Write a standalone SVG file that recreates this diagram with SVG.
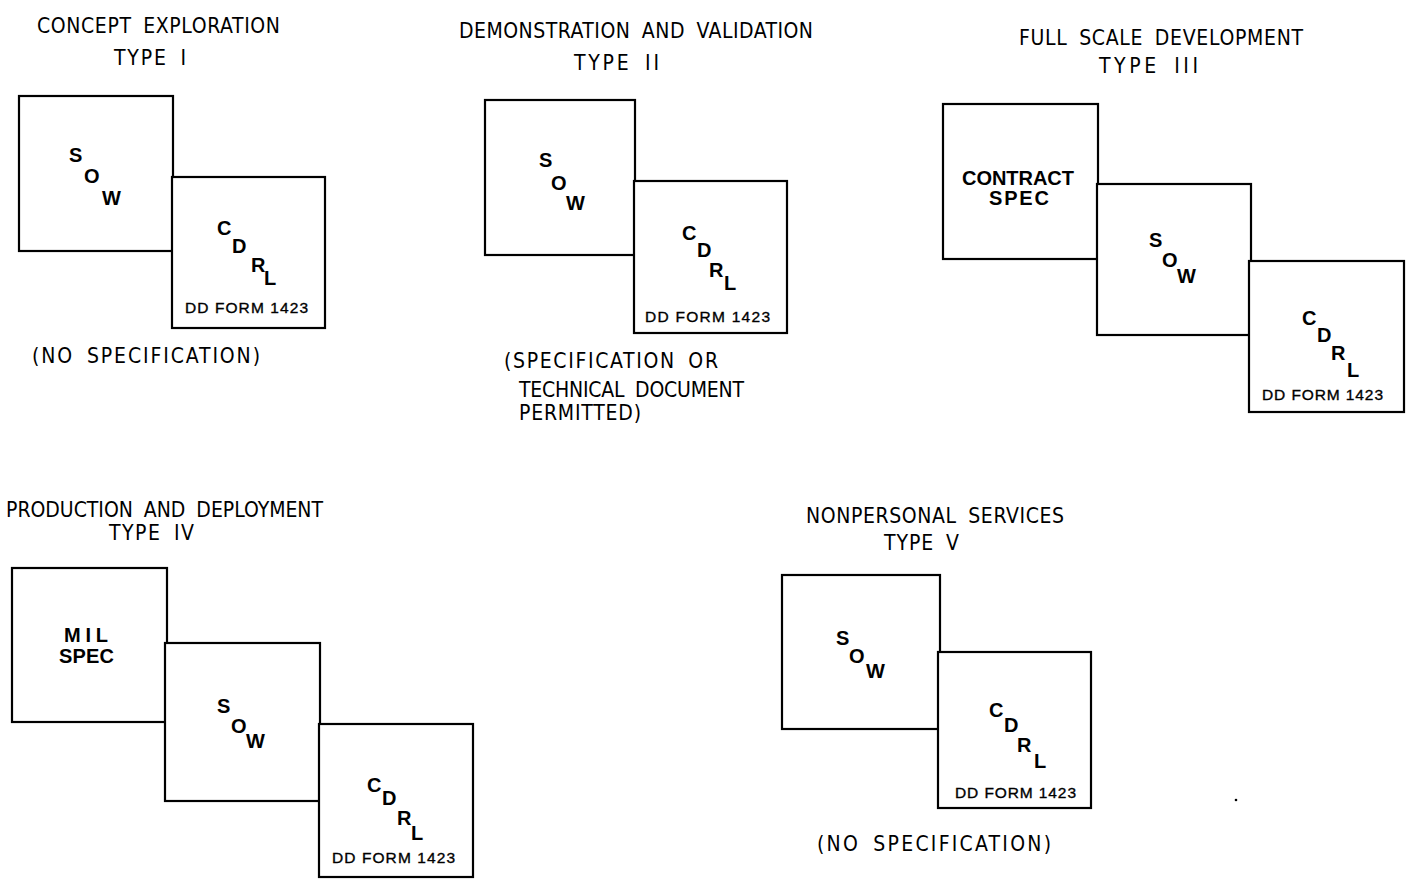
<svg xmlns="http://www.w3.org/2000/svg" width="1408" height="888" viewBox="0 0 1408 888">
<style>
.box{fill:#fff;stroke:#000;stroke-width:2.2}
.t{font-family:"DejaVu Sans Condensed","DejaVu Sans",sans-serif;font-stretch:condensed;font-size:21px;fill:#000;word-spacing:5px}
.b{font-family:"Liberation Sans",Arial,sans-serif;font-weight:bold;font-size:20px;fill:#000}
.f{font-family:"Liberation Sans",Arial,sans-serif;font-size:15.5px;fill:#000;stroke:#000;stroke-width:0.35}
</style>
<rect width="1408" height="888" fill="#fff"/>
<g id="connectors"></g>

<g id="type1">
<text class="t" x="37" y="33" textLength="243" lengthAdjust="spacing">CONCEPT EXPLORATION</text>
<text class="t" x="114" y="65" textLength="72" lengthAdjust="spacing">TYPE I</text>
<text class="t" x="32" y="363" textLength="228" lengthAdjust="spacing">(NO SPECIFICATION)</text>
<g id="t1-sow"><rect class="box" x="19" y="96" width="154" height="155"/>
<text class="b" x="69" y="162">S</text><text class="b" x="84" y="183">O</text><text class="b" x="102" y="205">W</text></g>
<g id="t1-cdrl"><rect class="box" x="172" y="177" width="153" height="151"/>
<text class="b" x="217" y="235">C</text><text class="b" x="232" y="253">D</text><text class="b" x="251" y="272">R</text><text class="b" x="264" y="285">L</text>
<text class="f" x="185" y="313" textLength="123" lengthAdjust="spacing">DD FORM 1423</text></g>
</g>

<g id="type2">
<text class="t" x="459" y="38" textLength="354" lengthAdjust="spacing">DEMONSTRATION AND VALIDATION</text>
<text class="t" x="574" y="70" textLength="85" lengthAdjust="spacing">TYPE II</text>
<text class="t" x="504" y="368" textLength="214" lengthAdjust="spacing">(SPECIFICATION OR</text>
<text class="t" x="519" y="397" textLength="225" lengthAdjust="spacing">TECHNICAL DOCUMENT</text>
<text class="t" x="519" y="420" textLength="122" lengthAdjust="spacing">PERMITTED)</text>
<g id="t2-sow"><rect class="box" x="485" y="100" width="150" height="155"/>
<text class="b" x="539" y="167">S</text><text class="b" x="551" y="190">O</text><text class="b" x="566" y="210">W</text></g>
<g id="t2-cdrl"><rect class="box" x="634" y="181" width="153" height="152"/>
<text class="b" x="682" y="240">C</text><text class="b" x="697" y="257">D</text><text class="b" x="709" y="277">R</text><text class="b" x="724" y="290">L</text>
<text class="f" x="645" y="322" textLength="125" lengthAdjust="spacing">DD FORM 1423</text></g>
</g>

<g id="type3">
<text class="t" x="1019" y="45" textLength="284" lengthAdjust="spacing">FULL SCALE DEVELOPMENT</text>
<text class="t" x="1099" y="73" textLength="99" lengthAdjust="spacing">TYPE III</text>
<g id="t3-spec"><rect class="box" x="943" y="104" width="155" height="155"/>
<text class="b" x="962" y="185" textLength="112" lengthAdjust="spacing">CONTRACT</text>
<text class="b" x="989" y="205" textLength="60" lengthAdjust="spacing">SPEC</text></g>
<g id="t3-sow"><rect class="box" x="1097" y="184" width="154" height="151"/>
<text class="b" x="1149" y="247">S</text><text class="b" x="1162" y="267">O</text><text class="b" x="1177" y="283">W</text></g>
<g id="t3-cdrl"><rect class="box" x="1249" y="261" width="155" height="151"/>
<text class="b" x="1302" y="325">C</text><text class="b" x="1317" y="342">D</text><text class="b" x="1331" y="360">R</text><text class="b" x="1347" y="377">L</text>
<text class="f" x="1262" y="400" textLength="121" lengthAdjust="spacing">DD FORM 1423</text></g>
</g>

<g id="type4">
<text class="t" x="6" y="517" textLength="317" lengthAdjust="spacing">PRODUCTION AND DEPLOYMENT</text>
<text class="t" x="109" y="540" textLength="85" lengthAdjust="spacing">TYPE IV</text>
<g id="t4-spec"><rect class="box" x="12" y="568" width="155" height="154"/>
<text class="b" x="64" y="642" textLength="44" lengthAdjust="spacing">MIL</text>
<text class="b" x="59" y="663" textLength="55" lengthAdjust="spacing">SPEC</text></g>
<g id="t4-sow"><rect class="box" x="165" y="643" width="155" height="158"/>
<text class="b" x="217" y="713">S</text><text class="b" x="231" y="733">O</text><text class="b" x="246" y="748">W</text></g>
<g id="t4-cdrl"><rect class="box" x="319" y="724" width="154" height="153"/>
<text class="b" x="367" y="792">C</text><text class="b" x="382" y="805">D</text><text class="b" x="397" y="825">R</text><text class="b" x="411" y="840">L</text>
<text class="f" x="332" y="863" textLength="123" lengthAdjust="spacing">DD FORM 1423</text></g>
</g>

<g id="type5">
<text class="t" x="806" y="523" textLength="258" lengthAdjust="spacing">NONPERSONAL SERVICES</text>
<text class="t" x="884" y="550" textLength="75" lengthAdjust="spacing">TYPE V</text>
<text class="t" x="817" y="851" textLength="234" lengthAdjust="spacing">(NO SPECIFICATION)</text>
<g id="t5-sow"><rect class="box" x="782" y="575" width="158" height="154"/>
<text class="b" x="836" y="645">S</text><text class="b" x="849" y="663">O</text><text class="b" x="866" y="678">W</text></g>
<g id="t5-cdrl"><rect class="box" x="938" y="652" width="153" height="156"/>
<text class="b" x="989" y="717">C</text><text class="b" x="1004" y="732">D</text><text class="b" x="1017" y="752">R</text><text class="b" x="1034" y="768">L</text>
<text class="f" x="955" y="798" textLength="121" lengthAdjust="spacing">DD FORM 1423</text></g>
</g>
<circle cx="1236" cy="800" r="1.3" fill="#000"/>
</svg>
